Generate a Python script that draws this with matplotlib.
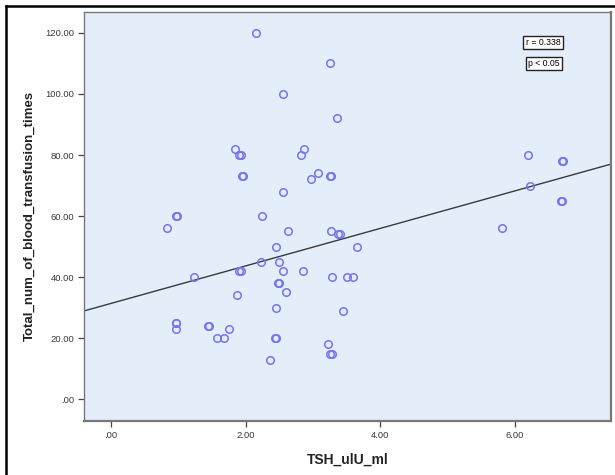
import matplotlib
matplotlib.use("Agg")
import matplotlib.pyplot as plt
from matplotlib.lines import Line2D
import numpy as np

plt.rcParams["font.family"] = ["Liberation Sans", "DejaVu Sans"]

# TSH (x) vs total number of blood transfusions (y)
tsh = [2.16, 3.26, 2.55, 3.36, 1.85, 1.91, 1.93, 2.87, 2.83, 1.95, 1.96,
       3.08, 2.97, 3.26, 3.27, 2.55, 2.25, 0.97, 0.98, 0.83, 2.63, 3.27,
       3.38, 3.40, 2.45, 3.65, 2.23, 2.49, 1.91, 1.93, 2.55, 2.85, 1.23,
       3.28, 3.51, 3.59, 2.48, 2.49, 2.60, 1.88, 2.46, 3.45, 0.96, 0.96,
       0.97, 1.44, 1.45, 1.75, 1.57, 1.68, 2.44, 2.45, 3.22, 3.25, 3.29,
       2.37, 6.19, 6.72, 6.70, 6.23, 6.70, 6.69, 5.81]
transfusions = [120, 110, 100, 92, 82, 80, 80, 82, 80, 73, 73,
                74, 72, 73, 73, 68, 60, 60, 60, 56, 55, 55,
                54, 54, 50, 50, 45, 45, 42, 42, 42, 42, 40,
                40, 40, 40, 38, 38, 35, 34, 30, 29, 25, 25,
                23, 24, 24, 23, 20, 20, 20, 20, 18, 15, 15,
                13, 80, 78, 78, 70, 65, 65, 56]

# fit line as drawn in the picture
fit_intercept = 31.4
fit_slope = 6.14

x_ticks = [0, 2, 4, 6]
y_ticks = [0, 20, 40, 60, 80, 100, 120]


def spss_label(v):
    s = f"{v:.2f}"
    return s[1:] if v == 0 else s


fig = plt.figure(figsize=(6.15, 4.75), dpi=100)
fig.patch.set_facecolor("white")
ax = fig.add_axes([84 / 615, 1 - 421 / 475, (611 - 84) / 615, (421 - 11.5) / 475])
ax.set_facecolor("#e4eefb")

ax.plot(tsh, transfusions, "o", ms=5.4, mfc="none", mec="#7474f0", mew=1.1,
        zorder=3)

xlim = (-0.40, 7.43)
xs = np.array(xlim)
ax.plot(xs, fit_intercept + fit_slope * xs, color="#3a3a3a", lw=1.0,
        zorder=2)

ax.set_xlim(*xlim)
ax.set_ylim(-7.1, 127)
ax.set_xticks(x_ticks)
ax.set_xticklabels([spss_label(v) for v in x_ticks])
ax.set_yticks(y_ticks)
ax.set_yticklabels([spss_label(v) for v in y_ticks])
ax.tick_params(direction="out", length=4, width=0.9, color="#444444",
               labelsize=6.8, labelcolor="#3a3a3a", pad=3)

for s in ax.spines.values():
    s.set_color("#777777")
    s.set_linewidth(1.0)
ax.spines["right"].set_linewidth(1.6)
ax.spines["bottom"].set_linewidth(1.6)

ax.set_xlabel("TSH_ulU_ml", fontsize=10, fontweight="bold", color="#222222",
              labelpad=9)
ax.set_ylabel("Total_num_of_blood_transfusion_times", fontsize=9.5,
              fontweight="bold", color="#222222", labelpad=7)

box = dict(boxstyle="square,pad=0.25", fc="white", ec="#222222", lw=1.0)
ax.text(0.871, 0.925, "r = 0.338", transform=ax.transAxes, fontsize=6.3,
        ha="center", va="center", bbox=box)
ax.text(0.873, 0.873, "p < 0.05", transform=ax.transAxes, fontsize=6.3,
        ha="center", va="center", bbox=box)

# outer frame (left and top edges visible)
fig.add_artist(Line2D([6 / 615, 6 / 615], [0, 1 - 6 / 475],
                      transform=fig.transFigure, color="black", lw=1.8))
fig.add_artist(Line2D([6 / 615, 1], [1 - 6 / 475, 1 - 6 / 475],
                      transform=fig.transFigure, color="black", lw=1.8))

fig.savefig("out.png", dpi=100, facecolor="white")
